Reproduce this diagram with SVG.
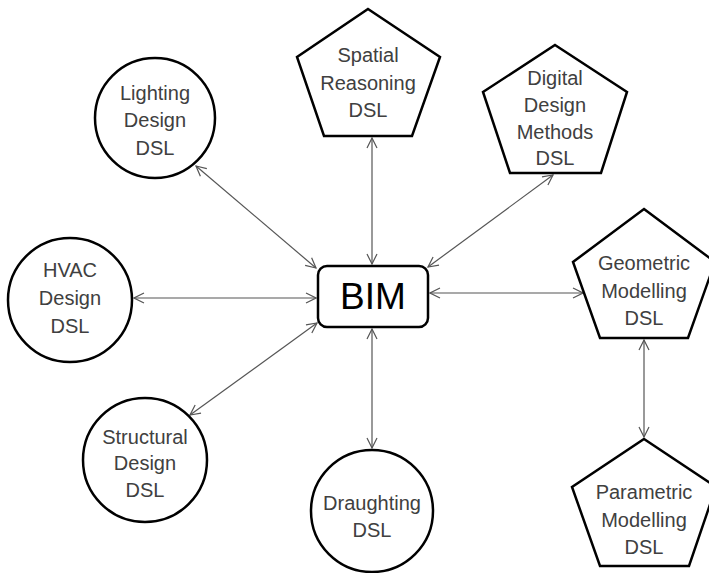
<svg xmlns="http://www.w3.org/2000/svg" width="709" height="573" viewBox="0 0 709 573">
<defs>
<style>
.n{fill:#fff;stroke:#000;stroke-width:2.5;stroke-linejoin:miter}
.t{font-family:"Liberation Sans",Arial,sans-serif;font-size:20px;fill:#404040;text-anchor:middle}
.c{stroke:#555;stroke-width:1.2;fill:none;marker-start:url(#a);marker-end:url(#a)}
</style>
<marker id="a" viewBox="0 0 12 12" refX="11" refY="6" markerWidth="12" markerHeight="12" markerUnits="userSpaceOnUse" orient="auto-start-reverse">
<path d="M1,1 L11,6 L1,11" fill="none" stroke="#555" stroke-width="1.2"/>
</marker>
</defs>
<rect width="709" height="573" fill="#fff"/>
<g id="connectors">
<line class="c" x1="372" y1="138" x2="372" y2="264"/>
<line class="c" x1="553" y1="175" x2="428" y2="267"/>
<line class="c" x1="196" y1="166" x2="316" y2="268"/>
<line class="c" x1="134" y1="298" x2="316" y2="298"/>
<line class="c" x1="430" y1="293" x2="583" y2="293"/>
<line class="c" x1="190" y1="415" x2="317" y2="323"/>
<line class="c" x1="372" y1="329" x2="372" y2="448"/>
<line class="c" x1="644" y1="340" x2="644" y2="437"/>
</g>
<g id="spatial">
<polygon class="n" points="368,9 440,57 412,136 324,136 297,57"/>
<text class="t" x="368" y="62">Spatial</text>
<text class="t" x="368" y="90">Reasoning</text>
<text class="t" x="368" y="117">DSL</text>
</g>
<g id="digital">
<polygon class="n" points="555,45 627,92 601,173 510,173 483,92"/>
<text class="t" x="555" y="85">Digital</text>
<text class="t" x="555" y="112">Design</text>
<text class="t" x="555" y="139">Methods</text>
<text class="t" x="555" y="165">DSL</text>
</g>
<g id="lighting">
<circle class="n" cx="155" cy="118" r="60"/>
<text class="t" x="155" y="100">Lighting</text>
<text class="t" x="155" y="127">Design</text>
<text class="t" x="155" y="155">DSL</text>
</g>
<g id="hvac">
<circle class="n" cx="70" cy="300" r="62"/>
<text class="t" x="70" y="277">HVAC</text>
<text class="t" x="70" y="305">Design</text>
<text class="t" x="70" y="333">DSL</text>
</g>
<g id="bim">
<rect class="n" x="318" y="266" width="110" height="61" rx="9"/>
<text x="373" y="309" font-family="'Liberation Sans',Arial,sans-serif" font-size="37" fill="#000" text-anchor="middle">BIM</text>
</g>
<g id="geometric">
<polygon class="n" points="644,209 715,262 688,338 600,338 573,262"/>
<text class="t" x="644" y="270">Geometric</text>
<text class="t" x="644" y="298">Modelling</text>
<text class="t" x="644" y="325">DSL</text>
</g>
<g id="parametric">
<polygon class="n" points="644,439 716,487 689,566 600,566 572,487"/>
<text class="t" x="644" y="499">Parametric</text>
<text class="t" x="644" y="527">Modelling</text>
<text class="t" x="644" y="554">DSL</text>
</g>
<g id="structural">
<circle class="n" cx="145" cy="460" r="62"/>
<text class="t" x="145" y="444">Structural</text>
<text class="t" x="145" y="470">Design</text>
<text class="t" x="145" y="497">DSL</text>
</g>
<g id="draughting">
<circle class="n" cx="372" cy="511" r="61"/>
<text class="t" x="372" y="510">Draughting</text>
<text class="t" x="372" y="537">DSL</text>
</g>
</svg>
